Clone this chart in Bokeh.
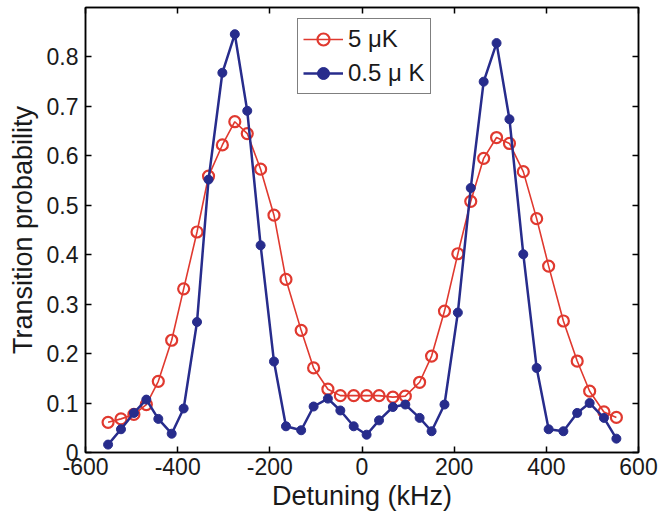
from bokeh.plotting import figure
from bokeh.models import LinearAxis, FixedTicker, Range1d, Legend, LegendItem
from bokeh.embed import file_html
from bokeh.resources import INLINE

# ---- data ----
detuning_khz = [-551, -523, -495, -468, -442, -413, -387, -358, -333, -303,
                -276, -249, -220, -191, -165, -132, -105, -74, -47, -18,
                10, 37, 67, 94, 125, 151, 179, 208, 236, 264,
                292, 320, 350, 379, 405, 437, 467, 494, 525, 552]

prob_5uK = [0.061, 0.068, 0.077, 0.097, 0.144, 0.227, 0.331, 0.446, 0.559, 0.622,
            0.669, 0.645, 0.573, 0.480, 0.350, 0.247, 0.171, 0.128, 0.115, 0.115,
            0.115, 0.115, 0.112, 0.114, 0.142, 0.195, 0.286, 0.402, 0.508, 0.595,
            0.637, 0.625, 0.568, 0.473, 0.377, 0.266, 0.185, 0.124, 0.082, 0.071]

prob_05uK = [0.016, 0.047, 0.080, 0.107, 0.068, 0.038, 0.089, 0.264, 0.552, 0.768,
             0.846, 0.691, 0.419, 0.184, 0.053, 0.045, 0.093, 0.109, 0.085, 0.053,
             0.036, 0.065, 0.092, 0.097, 0.070, 0.043, 0.097, 0.283, 0.535, 0.750,
             0.828, 0.674, 0.401, 0.171, 0.047, 0.043, 0.080, 0.100, 0.070, 0.028]

x_ticks = [-600, -400, -200, 0, 200, 400, 600]
x_tick_labels = ["-600", "-400", "-200", "0", "200", "400", "600"]
y_ticks = [0, 0.1, 0.2, 0.3, 0.4, 0.5, 0.6, 0.7, 0.8]
y_tick_labels = ["0", "0.1", "0.2", "0.3", "0.4", "0.5", "0.6", "0.7", "0.8"]

series_labels = ["5 \u03bcK", "0.5 \u03bc K"]

RED = "#e0392f"
BLUE = "#272c8c"
FONT = "Liberation Sans"

p = figure(width=665, height=520, output_backend="svg", toolbar_location=None,
           x_range=Range1d(-600, 600), y_range=Range1d(0, 0.9),
           min_border_left=85, min_border_right=27, min_border_top=7,
           min_border_bottom=68, background_fill_color="white",
           border_fill_color="white")
p.xgrid.visible = False
p.ygrid.visible = False
p.outline_line_color = "black"
p.outline_line_width = 1.5

# lines and markers
r_line = p.line(detuning_khz, prob_5uK, line_color=RED, line_width=1.6)
r_pts = p.scatter(detuning_khz, prob_5uK, marker="circle", size=11,
                  fill_color=None, line_color=RED, line_width=2.2)
b_line = p.line(detuning_khz, prob_05uK, line_color=BLUE, line_width=2.5)
b_pts = p.scatter(detuning_khz, prob_05uK, marker="circle", size=9,
                  fill_color=BLUE, line_color=BLUE, line_width=1)

def style_axis(ax, show_labels=True):
    ax.axis_line_color = "black"
    ax.axis_line_width = 1.5
    ax.major_tick_in = 6
    ax.major_tick_out = 0
    ax.major_tick_line_width = 1.5
    ax.minor_tick_in = 0
    ax.minor_tick_out = 0
    ax.major_label_text_font = FONT
    ax.major_label_text_color = "#1a1a1a"
    if show_labels:
        ax.major_label_text_font_size = "23px"
        ax.major_label_standoff = 5
    else:
        ax.major_label_text_font_size = "0px"
        ax.major_label_standoff = 0
        ax.major_label_text_alpha = 0

xa = p.xaxis[0]
xa.ticker = FixedTicker(ticks=x_ticks)
xa.major_label_overrides = {t: s for t, s in zip(x_ticks, x_tick_labels)}
xa.axis_label = "Detuning (kHz)"
style_axis(xa)
xa.axis_label_text_font = FONT
xa.axis_label_text_font_size = "27px"
xa.axis_label_text_font_style = "normal"
xa.axis_label_text_color = "#1a1a1a"
xa.axis_label_standoff = 3

ya = p.yaxis[0]
ya.ticker = FixedTicker(ticks=y_ticks)
ya.major_label_overrides = {t: s for t, s in zip(y_ticks, y_tick_labels)}
ya.axis_label = "Transition probability"
style_axis(ya)
ya.major_label_standoff = 7
ya.axis_label_text_font = FONT
ya.axis_label_text_font_size = "27px"
ya.axis_label_text_font_style = "normal"
ya.axis_label_text_color = "#1a1a1a"
ya.axis_label_standoff = 6

top = LinearAxis(ticker=FixedTicker(ticks=x_ticks))
style_axis(top, show_labels=False)
p.add_layout(top, "above")
right = LinearAxis(ticker=FixedTicker(ticks=y_ticks))
style_axis(right, show_labels=False)
p.add_layout(right, "right")

legend = Legend(items=[LegendItem(label=series_labels[0], renderers=[r_line, r_pts]),
                       LegendItem(label=series_labels[1], renderers=[b_line, b_pts])],
                location=(212, 358))
legend.label_text_font = FONT
legend.label_text_font_size = "24px"
legend.label_text_color = "#1a1a1a"
legend.border_line_color = "black"
legend.border_line_width = 1.5
legend.background_fill_color = "white"
legend.background_fill_alpha = 1
legend.padding = 5
legend.margin = 0
legend.spacing = 4
legend.glyph_width = 40
legend.glyph_height = 30
legend.label_height = 30
legend.label_standoff = 5
p.add_layout(legend, "center")

open("out.html", "w").write(file_html(p, INLINE))
